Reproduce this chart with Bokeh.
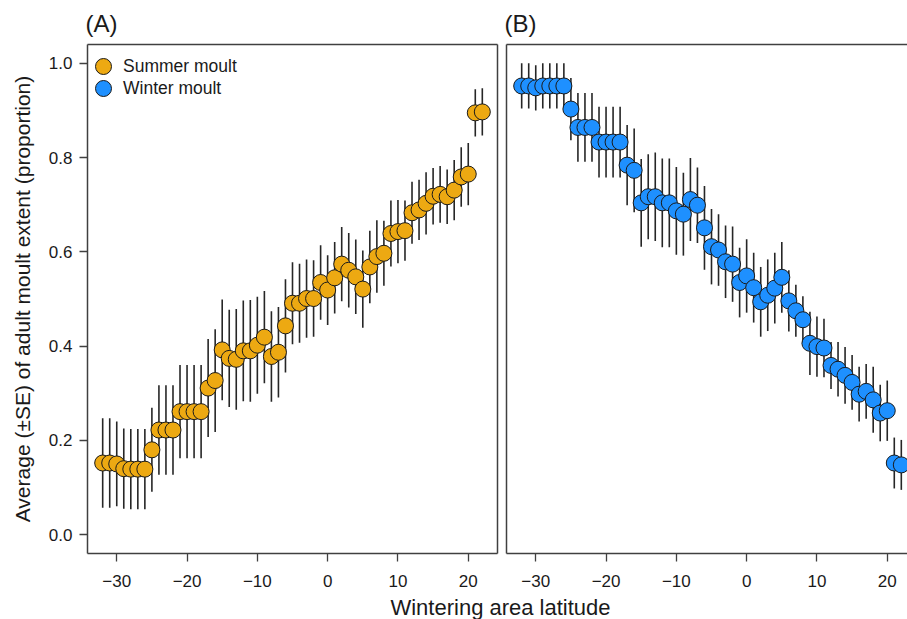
import numpy as np
from bokeh.plotting import figure
from bokeh.models import (Range1d, ColumnDataSource, Legend, LegendItem,
                          LinearAxis, FixedTicker, Label)
from bokeh.layouts import column, row
from bokeh.embed import file_html
from bokeh.resources import INLINE

# ---------------- data ----------------
latitude = list(range(-32, 23))

summer_mean = [0.152, 0.152, 0.150, 0.140, 0.139, 0.139, 0.139, 0.180, 0.222, 0.222,
               0.222, 0.261, 0.261, 0.261, 0.261, 0.311, 0.327, 0.392, 0.374, 0.372,
               0.390, 0.390, 0.402, 0.419, 0.378, 0.387, 0.443, 0.491, 0.491, 0.501,
               0.501, 0.535, 0.519, 0.545, 0.574, 0.561, 0.547, 0.521, 0.568, 0.590,
               0.597, 0.639, 0.643, 0.645, 0.683, 0.689, 0.703, 0.718, 0.722, 0.717,
               0.731, 0.759, 0.765, 0.895, 0.897]
summer_se = [0.095, 0.095, 0.090, 0.085, 0.085, 0.085, 0.085, 0.089, 0.095, 0.095,
             0.095, 0.099, 0.099, 0.099, 0.099, 0.104, 0.109, 0.107, 0.103, 0.107,
             0.107, 0.108, 0.103, 0.098, 0.096, 0.096, 0.099, 0.087, 0.084, 0.083,
             0.081, 0.079, 0.074, 0.076, 0.079, 0.079, 0.079, 0.082, 0.077, 0.077,
             0.069, 0.070, 0.067, 0.064, 0.066, 0.064, 0.066, 0.060, 0.060, 0.058,
             0.064, 0.063, 0.066, 0.050, 0.050]

winter_mean = [0.952, 0.952, 0.948, 0.952, 0.952, 0.952, 0.952, 0.903, 0.864, 0.864,
               0.864, 0.833, 0.833, 0.833, 0.833, 0.784, 0.773, 0.704, 0.717, 0.717,
               0.704, 0.704, 0.687, 0.680, 0.711, 0.699, 0.651, 0.611, 0.604, 0.579,
               0.574, 0.535, 0.549, 0.524, 0.494, 0.508, 0.523, 0.546, 0.496, 0.475,
               0.456, 0.406, 0.399, 0.396, 0.359, 0.351, 0.338, 0.323, 0.298, 0.304,
               0.286, 0.258, 0.263, 0.152, 0.148]
winter_se = [0.048, 0.048, 0.048, 0.048, 0.048, 0.048, 0.048, 0.066, 0.073, 0.073,
             0.073, 0.075, 0.075, 0.075, 0.075, 0.085, 0.089, 0.093, 0.090, 0.094,
             0.094, 0.094, 0.093, 0.088, 0.088, 0.080, 0.089, 0.080, 0.076, 0.077,
             0.080, 0.074, 0.078, 0.074, 0.074, 0.076, 0.075, 0.075, 0.065, 0.055,
             0.050, 0.067, 0.064, 0.062, 0.050, 0.058, 0.060, 0.058, 0.058, 0.058,
             0.070, 0.060, 0.064, 0.054, 0.053]

x_ticks = [-30, -20, -10, 0, 10, 20]
x_tick_labels = ["\u221230", "\u221220", "\u221210", "0", "10", "20"]
y_ticks = [0.0, 0.2, 0.4, 0.6, 0.8, 1.0]
y_tick_labels = ["0.0", "0.2", "0.4", "0.6", "0.8", "1.0"]
panel_titles = ["(A)", "(B)"]
series_labels = ["Summer moult", "Winter moult"]
x_label = "Wintering area latitude"
y_label = "Average (\u00b1SE) of adult moult extent (proportion)"

# ---------------- style ----------------
FONT = "Liberation Sans"
SUMMER = "#EDA912"
WINTER = "#1E90FF"
FRAME = "#404040"
BAR = "#262626"
TXT = "#1a1a1a"
FIG_H = 591


def make_source(mean, se):
    m = np.array(mean)
    s = np.array(se)
    return ColumnDataSource(dict(lat=latitude, mean=m, lo=m - s, hi=m + s))


def edge_axis(p, side):
    ax = LinearAxis(ticker=FixedTicker(ticks=[]), major_tick_out=0, major_tick_in=0,
                    minor_tick_out=0, minor_tick_in=0, major_label_text_font_size="0px",
                    major_label_standoff=0, axis_line_color=FRAME, axis_line_width=1.5)
    p.add_layout(ax, side)


def style_ticks(ax, standoff):
    ax.major_tick_out = 8
    ax.major_tick_in = 0
    ax.minor_tick_out = 0
    ax.minor_tick_in = 0
    ax.axis_line_color = FRAME
    ax.axis_line_width = 1.5
    ax.major_tick_line_color = FRAME
    ax.major_tick_line_width = 1.3
    ax.major_label_text_font = FONT
    ax.major_label_text_font_size = "17px"
    ax.major_label_text_color = TXT
    ax.major_label_standoff = standoff


def make_panel(title, width, x_end, border_left, border_right, with_y):
    p = figure(width=width, height=FIG_H, x_range=Range1d(-34.16, x_end),
               y_range=Range1d(-0.04, 1.04), output_backend="svg", toolbar_location=None,
               min_border_left=border_left, min_border_right=border_right,
               min_border_top=44, min_border_bottom=38, title=title,
               x_axis_location=None, y_axis_location=None)
    p.outline_line_color = None
    p.xgrid.visible = False
    p.ygrid.visible = False
    p.background_fill_color = "white"
    p.border_fill_color = "white"
    p.title.text_font = FONT
    p.title.text_font_size = "24px"
    p.title.text_font_style = "normal"
    p.title.text_color = TXT
    p.title.align = "left"
    p.title.standoff = 15
    p.title.offset = -2

    xa = LinearAxis(ticker=FixedTicker(ticks=x_ticks),
                    major_label_overrides=dict(zip(x_ticks, x_tick_labels)))
    style_ticks(xa, 13)
    p.add_layout(xa, "below")
    if with_y:
        ya = LinearAxis(ticker=FixedTicker(ticks=y_ticks),
                        major_label_overrides=dict(zip(y_ticks, y_tick_labels)))
        style_ticks(ya, 7)
        ya.axis_label = y_label
        ya.axis_label_text_font = FONT
        ya.axis_label_text_font_size = "21px"
        ya.axis_label_text_font_style = "normal"
        ya.axis_label_text_color = TXT
        ya.axis_label_standoff = 12
        p.add_layout(ya, "left")
        edge_axis(p, "right")
    else:
        edge_axis(p, "left")
    edge_axis(p, "above")
    return p


def draw_bars(p, src):
    p.segment(x0="lat", y0="lo", x1="lat", y1="hi", source=src,
              line_color=BAR, line_width=1.6)


def draw_points(p, src, color, **kw):
    return p.scatter(x="lat", y="mean", source=src, size=16, fill_color=color,
                     line_color=TXT, line_width=1, **kw)


src_s = make_source(summer_mean, summer_se)
src_w = make_source(winter_mean, winter_se)

pA = make_panel(panel_titles[0], 502, 24.16, 87, 5, True)
draw_bars(pA, src_s)
rs = draw_points(pA, src_s, SUMMER)
# winter series in panel A serves only as the legend key: it is muted and its
# muted look is fully transparent, so only the legend shows its symbol
rw_key = draw_points(pA, src_w, WINTER, muted_fill_alpha=0, muted_line_alpha=0)
rw_key.muted = True


def legend_row(label, renderer, bottom):
    return Legend(items=[LegendItem(label=label, renderers=[renderer])],
                  location=(-4, bottom), glyph_width=40, glyph_height=40, spacing=0,
                  label_standoff=-7, padding=0, margin=0, border_line_color=None,
                  background_fill_alpha=0, label_text_font=FONT,
                  label_text_font_size="17.5px", label_text_color=TXT)


pA.add_layout(legend_row(series_labels[0], rs, 467))
pA.add_layout(legend_row(series_labels[1], rw_key, 445))

pB = make_panel(panel_titles[1], 405, 22.88, 4, 0, False)
draw_bars(pB, src_w)
draw_points(pB, src_w, WINTER)

pX = figure(width=907, height=28, x_range=Range1d(0, 907), y_range=Range1d(0, 28),
            output_backend="svg", toolbar_location=None, min_border=0,
            x_axis_location=None, y_axis_location=None)
pX.outline_line_color = None
pX.xgrid.visible = False
pX.ygrid.visible = False
pX.add_layout(Label(x=500, y=12, text=x_label, text_align="center",
                    text_baseline="middle", text_font=FONT, text_font_size="22px",
                    text_color=TXT))

layout = column(row(pA, pB), pX)
open("out.html", "w").write(file_html(layout, INLINE))
